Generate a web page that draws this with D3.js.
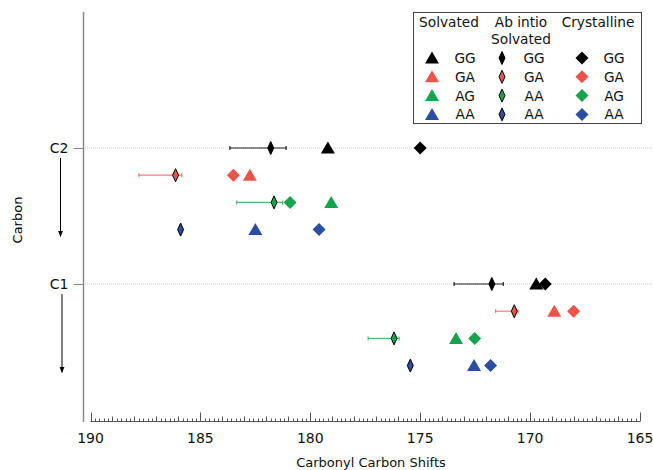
<!DOCTYPE html>
<html>
<head>
<meta charset="utf-8">
<script src="https://cdn.jsdelivr.net/npm/d3@7"></script>
<style>
  body { margin: 0; background: #fff; }
  text { font-family: "DejaVu Sans", Verdana, sans-serif; }
</style>
</head>
<body>
<figure style="margin:0"></figure>
<script>
// conformer rows, top to bottom inside each carbon group
const conformers = ['GG', 'GA', 'AG', 'AA']
const carbons = ['C2', 'C1']
const carbonPos = [2, 1]
const rowOffset = [0, 0.2, 0.4, 0.6]
const colors = ['#000000', '#ef5249', '#16a34e', '#2b4ea2']

// shifts (ppm), [C2 row values, C1 row values]
const solvated = [[179.2, 182.75, 179.05, 182.5], [169.72, 168.9, 173.37, 172.55]]
const abInitio = [[181.8, 186.13, 181.65, 185.9], [171.74, 170.72, 176.19, 175.45]]
const abInitioErrHi = [[183.66, 187.8, 183.35, null], [173.46, 171.57, 177.37, null]]
const abInitioErrLo = [[181.1, 185.85, 181.26, null], [171.22, 170.55, 175.96, null]]
const crystalline = [[175.0, 183.5, 180.92, 179.6], [169.31, 168.02, 172.52, 171.8]]

const xTicks = [190, 185, 180, 175, 170, 165]
const solvatedLabels = ['GG', 'GA', 'AG', 'AA']
const abInitioLabels = ['GG', 'GA', 'AA', 'AA']
const crystallineLabels = ['GG', 'GA', 'AG', 'AA']

const W = 653, H = 470

const svg = d3.select('figure')
  .append('svg')
  .attr('width', W)
  .attr('height', H)

const x = d3.scaleLinear().domain([190, 165]).range([90.5, 640])
const y = d3.scaleLinear().domain([0, 3]).range([420, 12])

const triangle = 'M0,-6.5L7,5.5L-7,5.5Z'
const diamond = 'M0,-6.5L6.5,0L0,6.5L-6.5,0Z'
const thinDiamond = 'M0,-6.5L3,0L0,6.5L-3,0Z'

// gridlines at C2 / C1
svg.append('g')
  .selectAll('line')
  .data(carbonPos)
  .enter()
  .append('line')
  .attr('x1', 83).attr('x2', 656)
  .attr('y1', d => y(d)).attr('y2', d => y(d))
  .attr('stroke', '#c8c8c8')
  .attr('stroke-width', 1)
  .attr('stroke-dasharray', '1,1')

// Y axis (free, Igor-style)
svg.append('g')
  .attr('transform', 'translate(83.5, 0)')
  .call(d3.axisLeft(y).tickValues(carbonPos).tickFormat((d, i) => carbons[i]).tickSize(10).tickPadding(5))
  .call(g => g.select('.domain').attr('stroke', '#8a8a8a').attr('stroke-width', 1.5).attr('d', `M0,${y(3)}V${y(0) + 2}`))
  .call(g => g.selectAll('.tick line').attr('stroke', '#8a8a8a'))
  .call(g => g.selectAll('.tick text').style('font-size', '14px').style('font-family', '"DejaVu Sans", sans-serif').attr('fill', '#111'))

// y title
svg.append('text')
  .attr('transform', `translate(22, ${y(1.5) + 4}) rotate(-90)`)
  .style('text-anchor', 'middle')
  .style('font-size', '13px')
  .text('Carbon')

// arrows below C2 and C1
const defs = svg.append('defs')
defs.append('marker')
  .attr('id', 'arr')
  .attr('viewBox', '0 0 10 10')
  .attr('refX', 9).attr('refY', 5)
  .attr('markerWidth', 6).attr('markerHeight', 6)
  .attr('orient', 'auto')
  .append('path').attr('d', 'M0,1L10,5L0,9Z').attr('fill', '#000')

svg.append('g')
  .selectAll('line')
  .data(carbonPos)
  .enter()
  .append('line')
  .attr('x1', (d, i) => 60.5 + i * 1.5).attr('x2', (d, i) => 60.5 + i * 1.5)
  .attr('y1', d => y(d) + 10)
  .attr('y2', d => y(d - 0.65))
  .attr('stroke', '#000')
  .attr('stroke-width', 1)
  .attr('marker-end', 'url(#arr)')

// X axis with minor ticks
const minor = d3.range(0, 126).map(i => 190 - i * 0.2)
const xg = svg.append('g').attr('transform', 'translate(0, 421.5)')
xg.append('line')
  .attr('x1', x(190)).attr('x2', x(165))
  .attr('stroke', '#555').attr('stroke-width', 1)
xg.selectAll('line.tk')
  .data(minor)
  .enter()
  .append('line')
  .attr('class', 'tk')
  .attr('x1', d => Math.round(x(d)) + 0.5).attr('x2', d => Math.round(x(d)) + 0.5)
  .attr('y1', 0)
  .attr('y2', (d, i) => i % 25 === 0 ? -9 : (i % 5 === 0 ? -5 : -3))
  .attr('stroke', '#555').attr('stroke-width', 1)
xg.selectAll('text')
  .data(xTicks)
  .enter()
  .append('text')
  .attr('x', d => x(d))
  .attr('y', 21)
  .style('text-anchor', 'middle')
  .style('font-size', '14px')
  .attr('fill', '#111')
  .text(d => d)

svg.append('text')
  .attr('x', 371)
  .attr('y', 467)
  .style('text-anchor', 'middle')
  .style('font-size', '13px')
  .attr('fill', '#111')
  .text('Carbonyl Carbon Shifts')

// flatten into points
const pts = []
carbons.forEach((c, ci) => {
  conformers.forEach((k, ri) => {
    const py = carbonPos[ci] - rowOffset[ri]
    pts.push({ set: 'solv', v: solvated[ci][ri], py, ri })
    pts.push({ set: 'cryst', v: crystalline[ci][ri], py, ri })
    pts.push({ set: 'ab', v: abInitio[ci][ri], py, ri, lo: abInitioErrLo[ci][ri], hi: abInitioErrHi[ci][ri] })
  })
})

// error bars
const eb = svg.append('g')
  .selectAll('g')
  .data(pts.filter(d => d.set === 'ab' && d.hi !== null))
  .enter()
  .append('g')
  .attr('stroke', d => colors[d.ri])
  .attr('stroke-opacity', d => d.ri === 0 ? 0.85 : 0.75)
  .attr('stroke-width', 1.2)
eb.append('line')
  .attr('x1', d => x(d.hi)).attr('x2', d => x(d.lo))
  .attr('y1', d => y(d.py)).attr('y2', d => y(d.py))
eb.append('line')
  .attr('x1', d => x(d.hi)).attr('x2', d => x(d.hi))
  .attr('y1', d => y(d.py) - 2).attr('y2', d => y(d.py) + 2)
eb.append('line')
  .attr('x1', d => x(d.lo)).attr('x2', d => x(d.lo))
  .attr('y1', d => y(d.py) - 2).attr('y2', d => y(d.py) + 2)

const shapeFor = { solv: triangle, cryst: diamond, ab: thinDiamond }

svg.append('g')
  .selectAll('path')
  .data(pts)
  .enter()
  .append('path')
  .attr('transform', d => `translate(${x(d.v)}, ${y(d.py)})`)
  .attr('d', d => shapeFor[d.set])
  .attr('fill', d => colors[d.ri])
  .attr('stroke', d => d.set === 'ab' ? '#000' : 'none')
  .attr('stroke-width', 1)

// legend
const lg = svg.append('g')
lg.append('rect')
  .attr('x', 413.5).attr('y', 12.5)
  .attr('width', 228).attr('height', 111)
  .attr('fill', '#fff')
  .attr('stroke', '#444').attr('stroke-width', 1)

const heads = [
  { x: 449, lines: ['Solvated'] },
  { x: 521, lines: ['Ab intio', 'Solvated'] },
  { x: 598, lines: ['Crystalline'] }
]
heads.forEach(h => {
  h.lines.forEach((t, i) => {
    lg.append('text')
      .attr('x', h.x).attr('y', 27 + i * 17)
      .style('text-anchor', 'middle')
      .style('font-size', '13.7px')
      .attr('fill', '#111')
      .text(t)
  })
})

const legendCols = [
  { sx: 432, tx: 465, shape: triangle, labels: solvatedLabels, stroke: false },
  { sx: 502, tx: 534, shape: thinDiamond, labels: abInitioLabels, stroke: true },
  { sx: 582, tx: 614, shape: diamond, labels: crystallineLabels, stroke: false }
]
legendCols.forEach(col => {
  col.labels.forEach((lab, i) => {
    const ly = 58 + i * 18.8
    lg.append('path')
      .attr('transform', `translate(${col.sx}, ${ly})`)
      .attr('d', col.shape)
      .attr('fill', colors[i])
      .attr('stroke', col.stroke ? '#000' : 'none')
    lg.append('text')
      .attr('x', col.tx).attr('y', ly + 5)
      .style('text-anchor', 'middle')
      .style('font-size', '13.7px')
      .attr('fill', '#111')
      .text(lab)
  })
})
</script>
</body>
</html>
